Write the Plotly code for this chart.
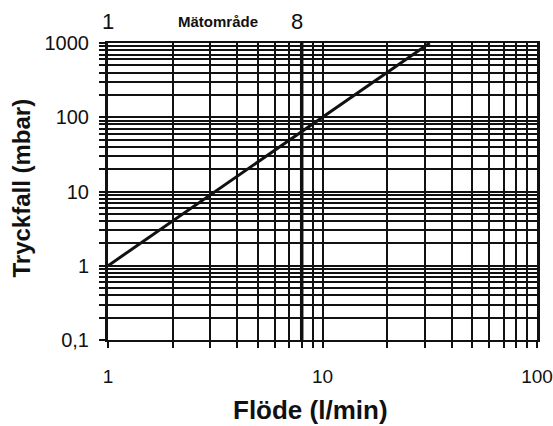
import plotly.graph_objects as go

# Data
flow = [1, 31.6]          # l/min
pressure = [1, 1000]      # mbar
range_start = 1
range_end = 8
x_decades = [1, 10, 100]
x_labels = ["1", "10", "100"]
y_decades = [0.1, 1, 10, 100, 1000]
y_labels = ["0,1", "1", "10", "100", "1000"]
x_title = "Flöde (l/min)"
y_title = "Tryckfall (mbar)"
range_label = "Mätområde"

def grid_vals(decades):
    vals = []
    for d in decades[:-1]:
        vals += [d * k for k in range(1, 10)]
    vals.append(decades[-1])
    return vals

xv = grid_vals(x_decades)
yv = grid_vals(y_decades)
xt = [x_labels[x_decades.index(v)] if v in x_decades else "" for v in xv]
yt = [y_labels[y_decades.index(v)] if v in y_decades else "" for v in yv]

FONT = "Liberation Sans, Arial, sans-serif"

fig = go.Figure()
fig.add_trace(go.Scatter(x=flow, y=pressure, mode="lines",
                         line=dict(color="#111", width=3), showlegend=False))
fig.add_trace(go.Scatter(x=[range_end, range_end], y=[y_decades[0], y_decades[-1]],
                         mode="lines", line=dict(color="#111", width=3.5),
                         showlegend=False))

fig.update_layout(
    width=553, height=426,
    margin=dict(l=108, r=16, t=43, b=86, autoexpand=False),
    paper_bgcolor="white", plot_bgcolor="white",
    font=dict(family=FONT, color="#111"),
    xaxis=dict(type="log", range=[0, 2], tickvals=xv, ticktext=xt,
               showgrid=True, gridcolor="#111", gridwidth=1.5,
               ticks="outside", ticklen=6, tickcolor="#111", tickwidth=1.5,
               showline=True, linecolor="#111", linewidth=2, mirror=True,
               zeroline=False, tickfont=dict(size=19),
               ticklabelstandoff=12, ticklabeloverflow="allow", automargin=False),
    yaxis=dict(type="log", range=[-1, 3], tickvals=yv, ticktext=yt,
               showgrid=True, gridcolor="#111", gridwidth=1.5,
               ticks="outside", ticklen=6, tickcolor="#111", tickwidth=1.5,
               showline=True, linecolor="#111", linewidth=3, mirror=True,
               zeroline=False, tickfont=dict(size=20),
               ticklabelstandoff=6, ticklabeloverflow="allow", automargin=False),
)

fig.add_annotation(x=0.471, y=0, xref="paper", yref="paper",
                   text="<b>" + x_title + "</b>", showarrow=False,
                   yanchor="middle", yshift=-70, font=dict(size=26))
fig.add_annotation(x=0, y=0.51, xref="paper", yref="paper",
                   text="<b>" + y_title + "</b>", showarrow=False, textangle=-90,
                   xanchor="center", xshift=-86, font=dict(size=24))

fig.add_annotation(x=0, y=1, xref="x", yref="paper", text=str(range_start),
                   showarrow=False, yanchor="middle", yshift=22,
                   font=dict(size=22))
fig.add_annotation(x=0.513, y=1, xref="x", yref="paper", text="<b>" + range_label + "</b>",
                   showarrow=False, yanchor="middle", yshift=22,
                   font=dict(size=15))
fig.add_annotation(x=0.88, y=1, xref="x", yref="paper", text=str(range_end),
                   showarrow=False, yanchor="middle", yshift=22,
                   font=dict(size=22))

fig.write_html(
    "out.html",
    config={"displayModeBar": False},
    post_script="document.body.style.margin='0';document.body.style.overflow='hidden';",
)
